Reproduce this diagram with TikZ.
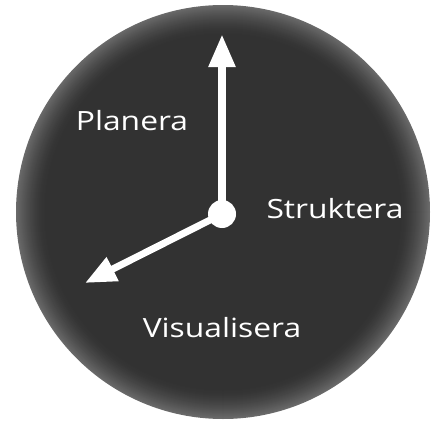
\documentclass[tikz,border=0pt]{standalone}
\usepackage{fontspec}
\newfontfamily\handfont[FakeStretch=1.2]{Open Sans}
\usetikzlibrary{arrows.meta}
\definecolor{faceC}{HTML}{323232}
\definecolor{rimC}{HTML}{6a6a6a}
\tikzset{
  hand/.style={draw=white, line width=8pt},
  lbl/.style={text=white, font=\handfont\fontsize{26.5}{30}\selectfont, anchor=base, inner sep=0pt},
}
\begin{document}
\begin{tikzpicture}[x=1pt,y=-1pt]
\useasboundingbox (0,0) rectangle (434,423);
\coordinate (o) at (223,212);
\foreach \i in {0,...,30}{
  \pgfmathsetmacro\p{100*(1-\i/30)^1.6}
  \fill[rimC!\p!faceC] (o) circle[radius=207-\i];
}
\coordinate (c) at (222,214);
\coordinate (top) at (222,34);
\coordinate (low) at (85,283);
\draw[hand, -{Triangle[width=25pt,length=33pt]}] (c) -- (top);
\draw[hand, line width=7pt, -{Triangle[width=25pt,length=31pt]}] (c) -- (low);
\fill[white] (c) circle[radius=14];
\node[lbl] (plan) at (132,130) {Planera};
\node[lbl] (strukt) at (335,218) {Struktera};
\node[lbl] (vis) at (222,337) {Visualisera};
\end{tikzpicture}
\end{document}
